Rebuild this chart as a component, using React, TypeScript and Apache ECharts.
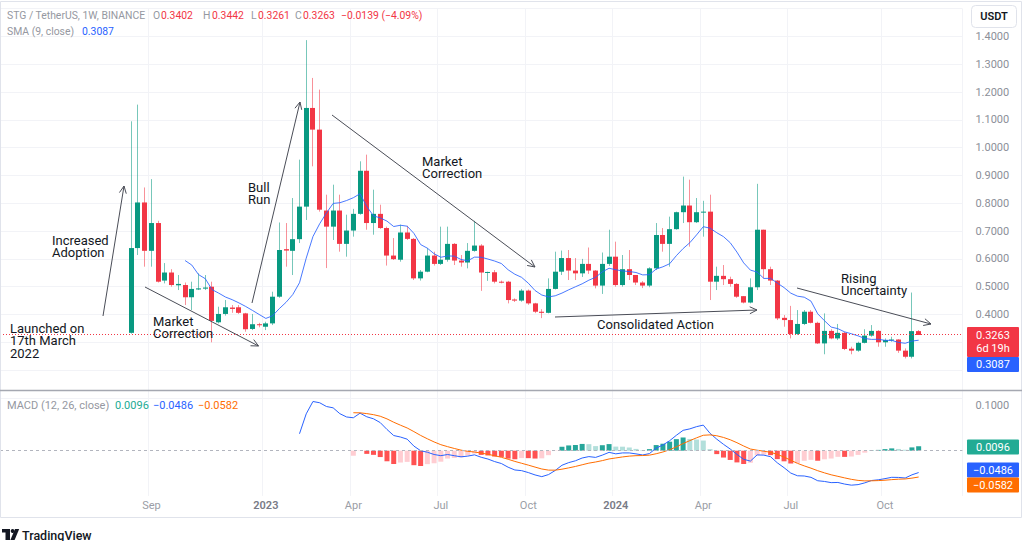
import React, { useEffect, useRef } from 'react';
import * as echarts from 'echarts';

// ---------- data ----------
const firstWeek = '2022-04-04'; // first (empty) weekly slot on the time axis
const weekCount = 143;
const firstCandleWeek = '2022-08-15';

const timeLabels: [string, string][] = [
  ['2022-09-05', 'Sep'],
  ['2023-01-02', '2023'],
  ['2023-04-03', 'Apr'],
  ['2023-07-03', 'Jul'],
  ['2023-10-02', 'Oct'],
  ['2024-01-01', '2024'],
  ['2024-04-01', 'Apr'],
  ['2024-07-01', 'Jul'],
  ['2024-10-07', 'Oct'],
];

const opens = [
  0.334, 0.639, 0.803, 0.629, 0.729, 0.522, 0.551, 0.505, 0.506, 0.462,
  0.490, 0.493, 0.500, 0.372, 0.402, 0.425, 0.426, 0.404, 0.348, 0.365,
  0.356, 0.368, 0.464, 0.635, 0.629, 0.671, 0.788, 1.143, 1.065, 0.774,
  0.716, 0.774, 0.654, 0.702, 0.762, 0.917, 0.729, 0.762, 0.711, 0.612,
  0.597, 0.695, 0.672, 0.530, 0.554, 0.612, 0.582, 0.597, 0.654, 0.594,
  0.587, 0.629, 0.648, 0.551, 0.552, 0.518, 0.518, 0.454, 0.450, 0.486,
  0.440, 0.410, 0.406, 0.492, 0.554, 0.603, 0.558, 0.548, 0.582, 0.558,
  0.504, 0.582, 0.608, 0.506, 0.563, 0.542, 0.515, 0.504, 0.566, 0.686,
  0.654, 0.707, 0.768, 0.792, 0.732, 0.768, 0.770, 0.518, 0.539, 0.527,
  0.510, 0.466, 0.443, 0.498, 0.705, 0.563, 0.522, 0.388, 0.380, 0.330,
  0.366, 0.410, 0.370, 0.296, 0.341, 0.314, 0.334, 0.277, 0.270, 0.298,
  0.324, 0.341, 0.300, 0.308, 0.310, 0.270, 0.248, 0.3402,
];
const closes = [
  0.639, 0.803, 0.629, 0.729, 0.518, 0.551, 0.506, 0.510, 0.462, 0.492,
  0.494, 0.497, 0.377, 0.402, 0.426, 0.420, 0.406, 0.347, 0.365, 0.362,
  0.368, 0.464, 0.632, 0.630, 0.671, 0.788, 1.143, 1.065, 0.777, 0.716,
  0.774, 0.654, 0.702, 0.762, 0.917, 0.729, 0.762, 0.711, 0.612, 0.599,
  0.695, 0.672, 0.530, 0.554, 0.612, 0.582, 0.597, 0.654, 0.594, 0.587,
  0.629, 0.648, 0.551, 0.553, 0.518, 0.516, 0.452, 0.450, 0.486, 0.440,
  0.410, 0.406, 0.492, 0.554, 0.603, 0.558, 0.548, 0.582, 0.558, 0.504,
  0.582, 0.608, 0.506, 0.563, 0.542, 0.515, 0.504, 0.566, 0.686, 0.654,
  0.707, 0.768, 0.792, 0.732, 0.768, 0.770, 0.518, 0.539, 0.527, 0.510,
  0.464, 0.443, 0.498, 0.705, 0.563, 0.522, 0.386, 0.380, 0.330, 0.366,
  0.410, 0.370, 0.296, 0.341, 0.314, 0.334, 0.276, 0.270, 0.298, 0.324,
  0.341, 0.300, 0.308, 0.310, 0.270, 0.248, 0.3402, 0.3263,
];
const highs = [
  1.095, 1.155, 0.857, 0.887, 0.737, 0.585, 0.563, 0.542, 0.515, 0.518,
  0.548, 0.542, 0.518, 0.428, 0.452, 0.434, 0.434, 0.406, 0.402, 0.370,
  0.374, 0.482, 0.731, 0.729, 0.819, 0.957, 1.387, 1.251, 1.209, 0.831,
  0.867, 0.831, 0.759, 0.780, 0.951, 0.975, 0.849, 0.795, 0.716, 0.675,
  0.723, 0.719, 0.675, 0.560, 0.639, 0.626, 0.716, 0.716, 0.657, 0.614,
  0.657, 0.737, 0.653, 0.554, 0.560, 0.522, 0.521, 0.458, 0.492, 0.490,
  0.442, 0.419, 0.530, 0.626, 0.630, 0.632, 0.603, 0.600, 0.641, 0.560,
  0.623, 0.705, 0.662, 0.614, 0.632, 0.542, 0.520, 0.570, 0.729, 0.711,
  0.752, 0.770, 0.896, 0.885, 0.819, 0.809, 0.831, 0.572, 0.578, 0.536,
  0.513, 0.466, 0.530, 0.870, 0.705, 0.572, 0.524, 0.398, 0.431, 0.416,
  0.416, 0.416, 0.374, 0.404, 0.347, 0.366, 0.338, 0.284, 0.302, 0.347,
  0.362, 0.344, 0.314, 0.320, 0.311, 0.278, 0.479, 0.3442,
];
const lows = [
  0.331, 0.614, 0.572, 0.572, 0.515, 0.512, 0.500, 0.488, 0.434, 0.416,
  0.488, 0.488, 0.300, 0.368, 0.396, 0.406, 0.402, 0.338, 0.344, 0.354,
  0.344, 0.362, 0.460, 0.572, 0.542, 0.657, 0.740, 0.933, 0.770, 0.567,
  0.668, 0.626, 0.608, 0.680, 0.759, 0.705, 0.687, 0.708, 0.576, 0.596,
  0.590, 0.668, 0.524, 0.522, 0.552, 0.576, 0.578, 0.590, 0.578, 0.572,
  0.566, 0.626, 0.485, 0.521, 0.512, 0.512, 0.440, 0.445, 0.446, 0.435,
  0.405, 0.387, 0.404, 0.490, 0.542, 0.524, 0.524, 0.535, 0.546, 0.494,
  0.474, 0.575, 0.500, 0.500, 0.524, 0.506, 0.495, 0.498, 0.560, 0.626,
  0.572, 0.705, 0.729, 0.644, 0.729, 0.680, 0.452, 0.488, 0.506, 0.500,
  0.460, 0.440, 0.440, 0.488, 0.530, 0.506, 0.380, 0.356, 0.314, 0.326,
  0.362, 0.368, 0.294, 0.257, 0.311, 0.308, 0.272, 0.257, 0.266, 0.296,
  0.320, 0.284, 0.284, 0.302, 0.262, 0.242, 0.242, 0.3261,
];

const headerTitle = 'STG / TetherUS, 1W, BINANCE';
const headerOHLC: [string, string][] = [
  ['O', '0.3402'], ['H', '0.3442'], ['L', '0.3261'], ['C', '0.3263'],
];
const headerChange = '\u22120.0139 (\u22124.09%)';
const smaLegend = '0.3087';
const macdLegend = ['0.0096', '\u22120.0486', '\u22120.0582'];
const timeLeft = '6d 19h';

const annotations = [
  { lines: ['Launched on', '17th March', '2022'], x: 10, y: 328 },
  { lines: ['Increased', 'Adoption'], x: 52, y: 240 },
  { lines: ['Market', 'Correction'], x: 153, y: 321 },
  { lines: ['Bull', 'Run'], x: 248, y: 187 },
  { lines: ['Market', 'Correction'], x: 422, y: 161 },
  { lines: ['Consolidated Action'], x: 597, y: 324 },
  { lines: ['Rising', 'Uncertainty'], x: 841, y: 278 },
];
const arrows: [number, number, number, number][] = [
  [103, 316, 124, 186],
  [145, 287, 258.5, 346],
  [252, 303, 300, 102],
  [332, 115, 535, 267],
  [555, 317, 757, 310],
  [797, 288, 931, 324],
];

// ---------- helpers ----------
const UP = '#089981';
const DOWN = '#f23645';
const UP_WICK = 'rgba(8,153,129,0.55)';
const DOWN_WICK = 'rgba(242,54,69,0.55)';

function weekDates(): string[] {
  const [y, m, d] = firstWeek.split('-').map(Number);
  const start = Date.UTC(y, m - 1, d);
  const out: string[] = [];
  for (let k = 0; k < weekCount; k++) {
    out.push(new Date(start + k * 7 * 86400000).toISOString().slice(0, 10));
  }
  return out;
}

function ema(src: (number | null)[], len: number): (number | null)[] {
  const out: (number | null)[] = src.map(() => null);
  const a = 2 / (len + 1);
  const first = src.findIndex((v) => v !== null);
  if (first < 0) return out;
  const seedIdx = first + len - 1;
  if (seedIdx >= src.length) return out;
  let s = 0;
  for (let i = first; i <= seedIdx; i++) s += src[i] as number;
  let prev = s / len;
  out[seedIdx] = prev;
  for (let i = seedIdx + 1; i < src.length; i++) {
    prev = a * (src[i] as number) + (1 - a) * prev;
    out[i] = prev;
  }
  return out;
}

export default function App() {
  const ref = useRef<HTMLDivElement>(null);

  useEffect(() => {
    if (!ref.current) return;
    const chart = echarts.init(ref.current, undefined, { renderer: 'svg' });

    const cats = weekDates();
    const off = cats.indexOf(firstCandleWeek);
    const n = closes.length;
    const labelMap: Record<string, string> = {};
    timeLabels.forEach(([d, l]) => (labelMap[d] = l));

    const candleData = closes.map((c, i) => [i + off, opens[i], c, lows[i], highs[i]]);

    // SMA 9
    const sma: (number | string)[] = cats.map(() => '-');
    for (let i = 8; i < n; i++) {
      let s = 0;
      for (let j = i - 8; j <= i; j++) s += closes[j];
      sma[i + off] = s / 9;
    }

    // MACD 12/26/9
    const e12 = ema(closes, 12);
    const e26 = ema(closes, 26);
    const macd = closes.map((_, i) => (e12[i] !== null && e26[i] !== null ? (e12[i] as number) - (e26[i] as number) : null));
    const sig = ema(macd, 9);
    const hist = macd.map((m, i) => (m !== null && sig[i] !== null ? m - (sig[i] as number) : null));

    const macdData: (number | string)[] = cats.map(() => '-');
    const sigData: (number | string)[] = cats.map(() => '-');
    const histData: any[] = cats.map(() => '-');
    for (let i = 0; i < n; i++) {
      if (macd[i] !== null) macdData[i + off] = macd[i] as number;
      if (sig[i] !== null) sigData[i + off] = sig[i] as number;
      const h = hist[i];
      if (h !== null) {
        const p = hist[i - 1];
        const rising = p !== null && p !== undefined ? h > p : true;
        let color;
        if (h >= 0) color = rising ? '#26a69a' : '#b2dfdb';
        else color = rising ? '#ffcdd2' : '#ff5252';
        histData[i + off] = { value: h, itemStyle: { color } };
      }
    }

    const lastClose = closes[n - 1];
    const showTick = (_: number, v: string) => labelMap[v] !== undefined;

    const gridW = 962.4;

    const font = (s: number, w = 'normal') => `${w} ${s}px Roboto, "Noto Sans", sans-serif`;
    const els: any[] = [];
    // frame
    els.push({ type: 'rect', shape: { x: 0.5, y: 1.5, width: 1021, height: 516 }, style: { fill: 'none', stroke: '#e0e3eb', lineWidth: 1 }, z: 90 });
    // pane separator
    els.push({ type: 'line', shape: { x1: 0, y1: 390.5, x2: 1022, y2: 390.5 }, style: { stroke: '#a5a8b1', lineWidth: 1.5 }, z: 90 });

    const txt = (text: string, x: number, y: number, fill: string, f: string, align = 'left') => ({
      type: 'text', x, y, z: 100,
      style: { text, fill, font: f, align, verticalAlign: 'middle' },
    });

    // header
    const GRAY = '#9598a1';
    const HF = font(10.4);
    els.push(txt(headerTitle, 7, 15.5, GRAY, HF));
    const ohlcX = [[153, 161], [203, 212], [251, 258], [295, 303]];
    headerOHLC.forEach(([k, v], i) => {
      els.push(txt(k, ohlcX[i][0], 15.5, GRAY, HF));
      els.push(txt(v, ohlcX[i][1], 15.5, '#f23645', HF));
    });
    els.push(txt(headerChange, 341, 15.5, '#f23645', HF));
    els.push(txt('SMA (9, close)', 7, 31.5, GRAY, HF));
    els.push(txt(smaLegend, 82, 31.5, '#2962ff', HF));
    els.push(txt('MACD (12, 26, close)', 7, 405.7, GRAY, font(11)));
    els.push(txt(macdLegend[0], 115, 405.7, '#22ab94', font(11)));
    els.push(txt(macdLegend[1], 153, 405.7, '#2962ff', font(11)));
    els.push(txt(macdLegend[2], 198, 405.7, '#ff6d00', font(11)));

    // USDT button
    els.push({ type: 'rect', z: 100, shape: { x: 971.5, y: 5.5, width: 45, height: 22, r: 4 }, style: { fill: '#fff', stroke: '#e0e3eb', lineWidth: 1 } });
    els.push(txt('USDT', 994, 16.5, '#131722', font(11, '600'), 'center'));

    // price-axis value boxes
    const box = (x: number, y: number, h: number, fill: string) => ({ type: 'rect', z: 100, shape: { x, y, width: 52, height: h, r: 1 }, style: { fill } });
    els.push(box(967, 327, 30, '#f23645'));
    els.push({
      type: 'text', x: 993, y: 328.5, z: 100,
      style: { text: `${lastClose.toFixed(4)}\n${timeLeft}`, fill: '#fff', font: font(11), align: 'center', verticalAlign: 'top', lineHeight: 13 },
    });
    els.push(box(967, 357, 15, '#2962ff'));
    els.push(txt(smaLegend, 993, 364.5, '#fff', font(11), 'center'));
    els.push(box(967, 439.5, 15, '#22ab94'));
    els.push(txt(macdLegend[0], 993, 447, '#fff', font(11), 'center'));
    els.push(box(967, 462.5, 15, '#2962ff'));
    els.push(txt(macdLegend[1], 993, 470, '#fff', font(11), 'center'));
    els.push(box(967, 477.5, 15, '#ff6d00'));
    els.push(txt(macdLegend[2], 993, 485, '#fff', font(11), 'center'));

    // annotations (one text block per note)
    annotations.forEach((a) => {
      els.push({
        type: 'text', x: a.x, y: a.y - 6.25, z: 100,
        style: { text: a.lines.join('\n'), fill: '#131722', font: font(13), align: 'left', verticalAlign: 'top', lineHeight: 12.5 },
      });
    });
    const AR = '#4a4d57';
    arrows.forEach(([x1, y1, x2, y2]) => {
      const ang = Math.atan2(y2 - y1, x2 - x1);
      const L = 8;
      const s = Math.PI / 7;
      const p1 = [x2 - L * Math.cos(ang - s), y2 - L * Math.sin(ang - s)];
      const p2 = [x2 - L * Math.cos(ang + s), y2 - L * Math.sin(ang + s)];
      els.push({ type: 'line', z: 95, shape: { x1, y1, x2, y2 }, style: { stroke: AR, lineWidth: 1 } });
      els.push({ type: 'polyline', z: 95, shape: { points: [p1, [x2, y2], p2] }, style: { stroke: AR, fill: null, lineWidth: 1 } });
    });

    // TradingView logo
    const LG = '#131722';
    els.push({ type: 'rect', z: 100, shape: { x: 2, y: 529, width: 8, height: 3.5 }, style: { fill: LG } });
    els.push({ type: 'rect', z: 100, shape: { x: 5.5, y: 529, width: 4.5, height: 11 }, style: { fill: LG } });
    els.push({ type: 'circle', z: 100, shape: { cx: 12.6, cy: 531, r: 1.9 }, style: { fill: LG } });
    els.push({ type: 'polygon', z: 100, shape: { points: [[15, 529], [19.2, 529], [14.6, 540], [10.4, 540]] }, style: { fill: LG } });
    els.push(txt('TradingView', 22, 535, LG, font(12.5, '500')));

    const option: any = {
      animation: false,
      backgroundColor: '#ffffff',
      grid: [
        { left: 0, top: 8.7, width: gridW, height: 389.2 },
        { left: 0, top: 396.46, width: gridW, height: 99.44 },
      ],
      xAxis: [
        {
          type: 'category', gridIndex: 0, data: cats,
          axisLine: { show: false }, axisTick: { show: false }, axisLabel: { show: false },
          splitLine: { show: true, interval: showTick, lineStyle: { color: '#f2f3f7' } },
        },
        {
          type: 'category', gridIndex: 1, data: cats,
          axisLine: { show: false }, axisTick: { show: false },
          axisLabel: {
            interval: showTick, margin: 4, fontSize: 11, color: '#9a9da6',
            fontFamily: 'Roboto',
            formatter: (v: string) => {
              const l = labelMap[v] || '';
              return /^\d{4}$/.test(l) ? `{y|${l}}` : l;
            },
            rich: { y: { fontSize: 11, fontWeight: 600, color: '#787b86', fontFamily: 'Roboto' } },
          },
          splitLine: { show: true, interval: showTick, lineStyle: { color: '#f2f3f7' } },
        },
      ],
      yAxis: [
        {
          type: 'value', gridIndex: 0, position: 'right', min: 0.1, max: 1.5, interval: 0.1,
          axisLine: { show: false }, axisTick: { show: false },
          splitLine: { show: true, lineStyle: { color: '#f2f3f7' } },
          axisLabel: {
            align: 'left', margin: 13, fontSize: 11, color: '#8c8f99', fontFamily: 'Roboto',
            formatter: (v: number) => (v > 0.35 && v < 1.45 ? v.toFixed(4) : ''),
          },
        },
        {
          type: 'value', gridIndex: 1, position: 'right', min: -0.1, max: 0.12, interval: 0.1,
          axisLine: { show: false }, axisTick: { show: false },
          splitLine: { show: false },
          axisLabel: {
            align: 'left', margin: 13, fontSize: 11, color: '#8c8f99', fontFamily: 'Roboto',
            formatter: (v: number) => (v > 0.05 && v < 0.11 ? v.toFixed(4) : ''),
          },
        },
      ],
      series: [
        {
          type: 'custom', name: 'STG', xAxisIndex: 0, yAxisIndex: 0,
          data: candleData, encode: { x: 0, y: [1, 2, 3, 4] }, z: 3, silent: true,
          renderItem: (_p: any, api: any) => {
            const k = api.value(0);
            const o = api.value(1), c = api.value(2), l = api.value(3), h = api.value(4);
            const up = c >= o;
            const pO = api.coord([k, o]);
            const yC = api.coord([k, c])[1];
            const yL = api.coord([k, l])[1];
            const yH = api.coord([k, h])[1];
            const xc = Math.round(pO[0] - 0.5) + 0.5;
            const top = Math.min(pO[1], yC);
            const bh = Math.max(1, Math.abs(pO[1] - yC));
            return {
              type: 'group',
              children: [
                { type: 'line', shape: { x1: xc, y1: yH, x2: xc, y2: yL }, style: { stroke: up ? UP_WICK : DOWN_WICK, lineWidth: 1 } },
                { type: 'rect', shape: { x: xc - 2.5, y: top, width: 5, height: bh }, style: { fill: up ? UP : DOWN } },
              ],
            };
          },
        },
        {
          type: 'line', name: 'SMA', xAxisIndex: 0, yAxisIndex: 0, data: sma,
          symbol: 'none', lineStyle: { color: '#2962ff', width: 1, opacity: 0.85 }, z: 4, silent: true,
          markLine: {
            silent: true, symbol: 'none', label: { show: false },
            lineStyle: { color: '#f23645', type: [1, 2], width: 1 },
            data: [{ yAxis: lastClose }],
          },
        },
        {
          type: 'bar', name: 'Histogram', xAxisIndex: 1, yAxisIndex: 1, data: histData,
          barWidth: 5, silent: true,
        },
        {
          type: 'line', name: 'MACD', xAxisIndex: 1, yAxisIndex: 1, data: macdData,
          symbol: 'none', lineStyle: { color: '#2962ff', width: 1 }, z: 4, silent: true,
          markLine: {
            silent: true, symbol: 'none', label: { show: false },
            lineStyle: { color: '#b2b5be', type: [3, 3], width: 1 },
            data: [{ yAxis: 0 }],
          },
        },
        {
          type: 'line', name: 'Signal', xAxisIndex: 1, yAxisIndex: 1, data: sigData,
          symbol: 'none', lineStyle: { color: '#ff6d00', width: 1 }, z: 4, silent: true,
        },
      ],
      graphic: { elements: els },
    };

    chart.setOption(option);
    return () => chart.dispose();
  }, []);

  return (
    <div
      ref={ref}
      style={{ position: 'fixed', left: 0, top: 0, width: 1024, height: 541, background: '#fff' }}
    />
  );
}
